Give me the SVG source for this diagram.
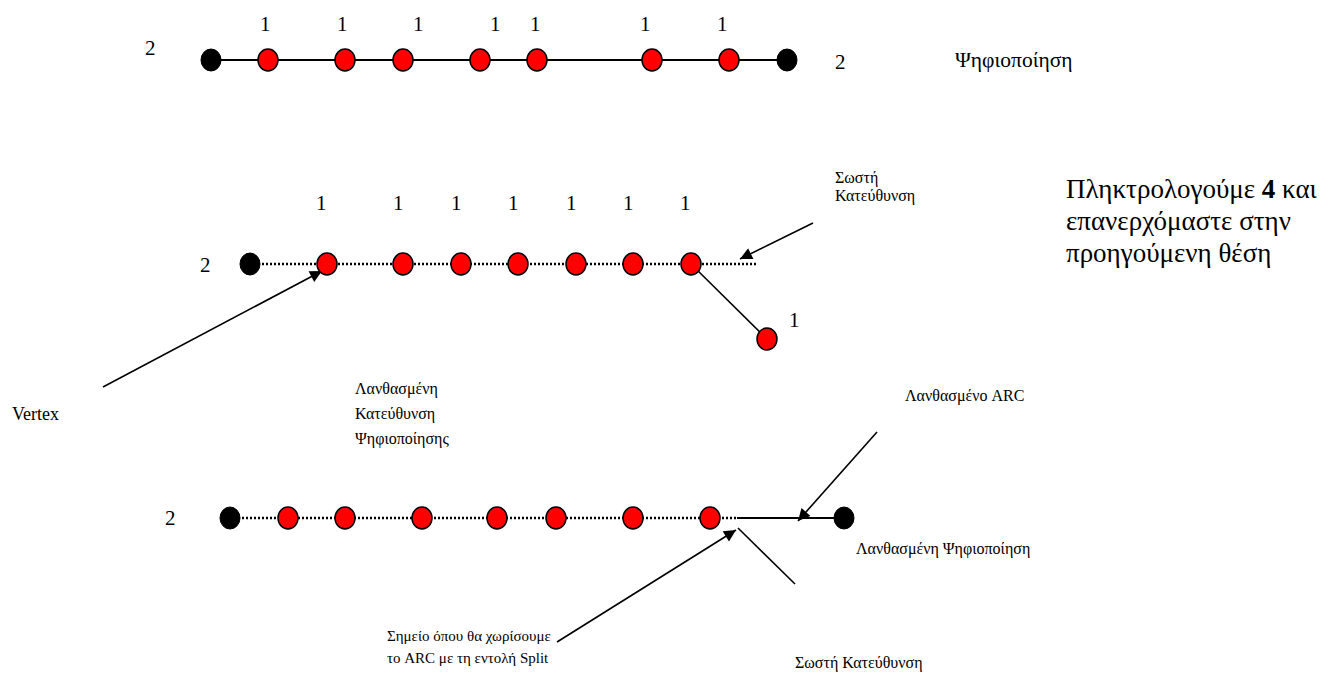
<svg xmlns="http://www.w3.org/2000/svg" width="1329" height="677" viewBox="0 0 1329 677">
<defs>
<style>
text{font-family:"Liberation Serif","DejaVu Serif",serif;fill:#000}
.lbl{font-size:21px}
.ttl{font-size:21.5px}
.sm{font-size:16px}
.sp{font-size:15px}
.vx{font-size:18px}
.big{font-size:27px}
.red{fill:#ff0000;stroke:#000;stroke-width:1.5}
.blk{fill:#000;stroke:#000;stroke-width:1}
.solid{stroke:#000;stroke-width:2;fill:none}
.dot{stroke:#000;stroke-width:2.5;stroke-dasharray:2 2;fill:none}
.arr{stroke:#000;stroke-width:1.6;fill:none;marker-end:url(#ah)}
.ln{stroke:#000;stroke-width:1.6;fill:none}
</style>
<marker id="ah" viewBox="0 0 10 10" refX="10" refY="5" markerWidth="16" markerHeight="12" markerUnits="userSpaceOnUse" orient="auto">
<path d="M0,0 L10,5 L0,10 z" fill="#000"/>
</marker>
</defs>

<g id="connectors">
<line class="solid" x1="211" y1="60" x2="787" y2="60"/>
<line class="dot" x1="250" y1="264" x2="758" y2="264"/>
<line class="ln" x1="691" y1="264" x2="767" y2="339"/>
<line class="arr" x1="103" y1="387" x2="322" y2="271"/>
<line class="arr" x1="813" y1="223" x2="740" y2="259"/>
<line class="dot" x1="230" y1="518" x2="737" y2="518"/>
<line class="solid" x1="737" y1="518" x2="844" y2="518"/>
<line class="arr" x1="877" y1="432" x2="798" y2="521"/>
<line class="arr" x1="557" y1="642" x2="736" y2="530"/>
<line class="ln" x1="738" y1="528" x2="795" y2="584"/>
</g>

<g id="row1">
<ellipse class="blk" cx="211" cy="60" rx="10" ry="11"/>
<ellipse class="red" cx="268" cy="60" rx="10" ry="11"/>
<ellipse class="red" cx="345" cy="60" rx="10" ry="11"/>
<ellipse class="red" cx="403" cy="60" rx="10" ry="11"/>
<ellipse class="red" cx="480" cy="60" rx="10" ry="11"/>
<ellipse class="red" cx="537" cy="60" rx="10" ry="11"/>
<ellipse class="red" cx="652" cy="60" rx="10" ry="11"/>
<ellipse class="red" cx="729" cy="60" rx="10" ry="11"/>
<ellipse class="blk" cx="787" cy="60" rx="10" ry="11"/>
<text class="lbl" x="145" y="55">2</text>
<text class="lbl" x="835" y="69">2</text>
<text class="lbl" x="260" y="31">1</text>
<text class="lbl" x="337" y="31">1</text>
<text class="lbl" x="413" y="31">1</text>
<text class="lbl" x="490" y="31">1</text>
<text class="lbl" x="530" y="31">1</text>
<text class="lbl" x="640" y="31">1</text>
<text class="lbl" x="717" y="31">1</text>
</g>

<g id="title">
<text class="ttl" x="955" y="67">Ψηφιοποίηση</text>
</g>

<g id="row2">
<ellipse class="blk" cx="250" cy="264" rx="10" ry="11"/>
<ellipse class="red" cx="327" cy="264" rx="10" ry="11"/>
<ellipse class="red" cx="403" cy="264" rx="10" ry="11"/>
<ellipse class="red" cx="461" cy="264" rx="10" ry="11"/>
<ellipse class="red" cx="518" cy="264" rx="10" ry="11"/>
<ellipse class="red" cx="576" cy="264" rx="10" ry="11"/>
<ellipse class="red" cx="633" cy="264" rx="10" ry="11"/>
<ellipse class="red" cx="691" cy="264" rx="10" ry="11"/>
<ellipse class="red" cx="767" cy="339" rx="10" ry="11"/>
<text class="lbl" x="200" y="272">2</text>
<text class="lbl" x="316" y="210">1</text>
<text class="lbl" x="393" y="210">1</text>
<text class="lbl" x="451" y="210">1</text>
<text class="lbl" x="508" y="210">1</text>
<text class="lbl" x="566" y="210">1</text>
<text class="lbl" x="623" y="210">1</text>
<text class="lbl" x="680" y="210">1</text>
<text class="lbl" x="789" y="327">1</text>
</g>

<g id="sosti1">
<text class="sm" x="835" y="183">Σωστή</text>
<text class="sm" x="835" y="201">Κατεύθυνση</text>
</g>

<g id="note">
<text class="big" x="1066" y="198">Πληκτρολογούμε <tspan font-weight="bold">4</tspan> και</text>
<text class="big" x="1066" y="230">επανερχόμαστε στην</text>
<text class="big" x="1066" y="262">προηγούμενη θέση</text>
</g>

<g id="vertex">
<text class="vx" x="12" y="420">Vertex</text>
</g>

<g id="lathos1">
<text class="sm" x="355" y="394">Λανθασμένη</text>
<text class="sm" x="355" y="419">Κατεύθυνση</text>
<text class="sm" x="355" y="444">Ψηφιοποίησης</text>
</g>

<g id="row3">
<ellipse class="blk" cx="230" cy="518" rx="10" ry="11"/>
<ellipse class="red" cx="288" cy="518" rx="10" ry="11"/>
<ellipse class="red" cx="345" cy="518" rx="10" ry="11"/>
<ellipse class="red" cx="422" cy="518" rx="10" ry="11"/>
<ellipse class="red" cx="497" cy="518" rx="10" ry="11"/>
<ellipse class="red" cx="556" cy="518" rx="10" ry="11"/>
<ellipse class="red" cx="633" cy="518" rx="10" ry="11"/>
<ellipse class="red" cx="710" cy="518" rx="10" ry="11"/>
<ellipse class="blk" cx="844" cy="518" rx="10" ry="11"/>
<text class="lbl" x="165" y="525">2</text>
</g>

<g id="lathosArc">
<text class="sm" x="905" y="401">Λανθασμένο ARC</text>
</g>
<g id="lathosPsif">
<text class="sm" x="856" y="554">Λανθασμένη Ψηφιοποίηση</text>
</g>
<g id="split">
<text class="sp" x="387" y="641">Σημείο όπου θα χωρίσουμε</text>
<text class="sp" x="387" y="663">το ARC με τη εντολή Split</text>
</g>
<g id="sosti2">
<text class="sm" x="795" y="668">Σωστή Κατεύθυνση</text>
</g>
</svg>
